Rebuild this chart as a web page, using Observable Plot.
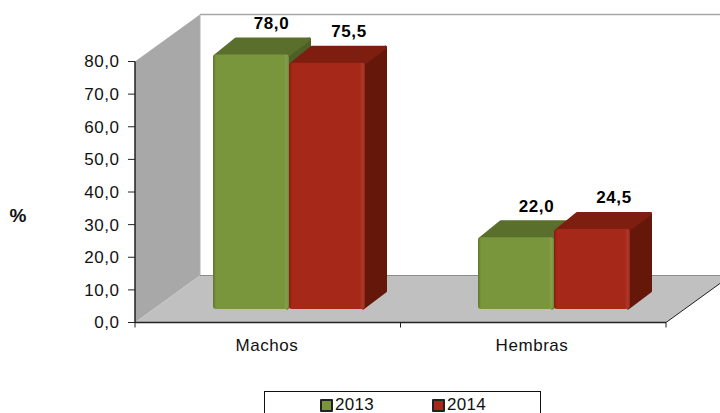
<!DOCTYPE html>
<html><head><meta charset="utf-8">
<style>
html,body{margin:0;padding:0;background:#fff;overflow:hidden;width:720px;height:413px}
svg{display:block;overflow:hidden}
svg text{letter-spacing:.55px}
#legend{box-sizing:border-box;margin-left:264px;width:277px;height:40px;border:1.5px solid #111;
 font:17px "Liberation Sans",Arial,sans-serif;color:#111;position:relative}
#legend span.item{position:absolute;top:3px;display:flex;align-items:center;gap:2px;line-height:20px;letter-spacing:.3px}
#legend i{display:inline-block;width:9px;height:9px;border:2px solid #222;border-radius:1px}
</style>
<script src="https://cdn.jsdelivr.net/npm/d3@7"></script>
<script src="https://cdn.jsdelivr.net/npm/@observablehq/plot@0.6"></script>
</head><body><div id="chart"></div><div id="legend"></div>
<script>
const sexes = ["Machos", "Hembras"];
const years = ["2013", "2014"];
const values2013 = [78.0, 22.0];
const values2014 = [75.5, 24.5];
const yTicks = [0, 10, 20, 30, 40, 50, 60, 70, 80];
const frontColors = ["#7a963c", "#a52818"];
const topColors = ["#5b6f2d", "#7e1e10"];
const sideColors = ["#4d6126", "#651709"];

const rows = sexes.flatMap((sex, i) => [
  {sex, year: years[0], value: values2013[i]},
  {sex, year: years[1], value: values2014[i]}
]);
const comma = v => v.toFixed(1).replace(".", ",");
const NS = "http://www.w3.org/2000/svg";
const el = (name, attrs) => {
  const n = document.createElementNS(NS, name);
  for (const k in attrs) n.setAttribute(k, attrs[k]);
  return n;
};
const poly = (pts, fill, extra = {}) => el("polygon", {points: pts.map(p => p.join(",")).join(" "), fill, ...extra});

const frame = {width: 720, height: 391, left: 135, right: 54, top: 61.5, bottom: 68.5};
// depth of the chart room and of each bar, in pixels
const room = {dx: 65, dy: -47};
const bar = {dx: 22, dy: -17, shiftX: 20, shiftY: -13.5};
// the first facet's group is translated by 1px by the rounded band scale
const facetNudge = 1;

// marks without a facet channel are repeated per facet: keep only the first rendering
const once = fn => { let done = false; return (...args) => { if (done) return null; done = true; return fn(...args); }; };

const walls = once((index, {y}) => {
  const g = el("g", {});
  const x0 = frame.left - facetNudge, x1 = frame.width - frame.right - facetNudge;
  const y0 = y(0), yT = y(80);
  const bx0 = x0 + room.dx, bx1 = x1 + room.dx, by0 = y0 + room.dy, byT = yT + room.dy;
  g.append(poly([[x0, yT], [bx0, byT], [bx0, by0], [x0, y0]], "#a8a8a8"));
  g.append(poly([[x0, y0], [bx0, by0], [bx1, by0], [x1, y0]], "#c0c0c0"));
  g.append(el("line", {x1: bx0, y1: byT, x2: bx1, y2: byT, stroke: "#a6a6a6", "stroke-width": 1.5}));
  g.append(el("line", {x1: bx0, y1: byT, x2: bx0, y2: by0, stroke: "#b0b0b0", "stroke-width": 1}));
  g.append(el("line", {x1: bx0, y1: by0, x2: bx1, y2: by0, stroke: "#8c8c8c", "stroke-width": 1}));
  const defs = el("defs", {});
  defs.innerHTML = `
   <linearGradient id="shadeH" x1="0" x2="1" y1="0" y2="0">
    <stop offset="0" stop-color="#000" stop-opacity=".22"/><stop offset=".04" stop-color="#000" stop-opacity="0"/>
    <stop offset=".93" stop-color="#fff" stop-opacity="0"/><stop offset=".97" stop-color="#fff" stop-opacity=".08"/>
    <stop offset="1" stop-color="#000" stop-opacity=".1"/>
   </linearGradient>`;
  g.append(defs);
  return g;
});

function extrude(index, scales, values, dims, ctx, next) {
  const g = next(index, scales, values, dims, ctx);
  g.querySelectorAll("rect").forEach(r => {
    const x = +r.getAttribute("x"), y = +r.getAttribute("y");
    const w = +r.getAttribute("width"), h = +r.getAttribute("height");
    const k = frontColors.indexOf(d3.color(r.getAttribute("fill")).formatHex());
    const opts = c => ({stroke: c, "stroke-width": 3, "stroke-linejoin": "round"});
    const side = poly([[x + w - 2, y + 2], [x + w + bar.dx - 1.5, y + bar.dy + 1.5], [x + w + bar.dx - 1.5, y + h + bar.dy - 1], [x + w - 2, y + h - 1]], sideColors[k], opts(sideColors[k]));
    const top = poly([[x + 2, y + 1.5], [x + bar.dx + 1, y + bar.dy + 1.5], [x + w + bar.dx - 1.5, y + bar.dy + 1.5], [x + w - 2, y + 1.5]], topColors[k], opts(topColors[k]));
    r.before(side); r.before(top);
    const shade = r.cloneNode(); shade.setAttribute("fill", "url(#shadeH)");
    r.after(shade);
  });
  return g;
}

const axisLines = once((index, {y}) => {
  const g = el("g", {stroke: "#222", "stroke-width": 1.5, fill: "none"});
  const x0 = frame.left - facetNudge, x1 = frame.width - frame.right - facetNudge, xm = (x0 + x1) / 2;
  const y0 = y(0), yT = y(80);
  g.append(el("line", {x1: x0, y1: y0, x2: x1, y2: y0}));
  g.append(el("line", {x1: x0, y1: yT, x2: x0, y2: y0}));
  g.append(el("line", {x1: x1, y1: y0, x2: x1 + room.dx, y2: y0 + room.dy, "stroke-width": 1}));
  for (const x of [x0, xm, x1]) g.append(el("line", {x1: x, y1: y0, x2: x, y2: y0 + 5, "stroke-width": 1}));
  for (const t of yTicks) g.append(el("line", {x1: x0 - 7, y1: y(t), x2: x0, y2: y(t), "stroke-width": 1}));
  return g;
});

const firstOnly = once((index, scales, values, dims, ctx, next) => next(index, scales, values, dims, ctx));

const chart = Plot.plot({
  width: frame.width, height: frame.height,
  marginLeft: frame.left, marginRight: frame.right, marginTop: frame.top, marginBottom: frame.bottom,
  style: {fontFamily: "'Liberation Sans', Arial, sans-serif", fontSize: "17px", color: "#111", background: "#fff", overflow: "hidden"},
  y: {domain: [0, 80], axis: null},
  x: {domain: years, axis: null, paddingInner: 0, paddingOuter: 0.74},
  fx: {domain: sexes, padding: 0, axis: null},
  color: {domain: years, range: frontColors},
  marks: [
    walls,
    Plot.barY(rows, {x: "year", fx: "sex", y: "value", fill: "year", inset: 0, dx: bar.shiftX, dy: bar.shiftY, rx: 3, render: extrude}),
    Plot.axisY({ticks: yTicks, tickFormat: comma, tickSize: 0, tickPadding: 17, label: null, fontSize: 17, fill: "#111"}),
    Plot.axisFx({anchor: "bottom", tickSize: 0, tickPadding: 16, dx: -2, label: null, fontSize: 17, fill: "#111"}),
    axisLines,
    Plot.text(rows, {filter: d => d.year === years[0], x: "year", fx: "sex", y: "value", text: d => comma(d.value), dx: 40, dy: -45, fontWeight: "bold", fontSize: 17, fill: "#000"}),
    Plot.text(rows, {filter: d => d.year === years[1], x: "year", fx: "sex", y: "value", text: d => comma(d.value), dx: 41.5, dy: -45.5, fontWeight: "bold", fontSize: 17, fill: "#000"}),
    Plot.text(["%"], {frameAnchor: "left", dx: -127, dy: 23, fontWeight: "bold", fontSize: 19, fill: "#111", render: firstOnly})
  ]
});
document.getElementById("chart").append(chart);

const lg = document.getElementById("legend");
const lefts = [55, 167];
years.forEach((yr, i) => {
  const s = document.createElement("span");
  s.className = "item"; s.style.left = lefts[i] + "px";
  const sw = document.createElement("i");
  sw.style.background = frontColors[i];
  s.append(sw, yr);
  lg.append(s);
});
</script></body></html>
